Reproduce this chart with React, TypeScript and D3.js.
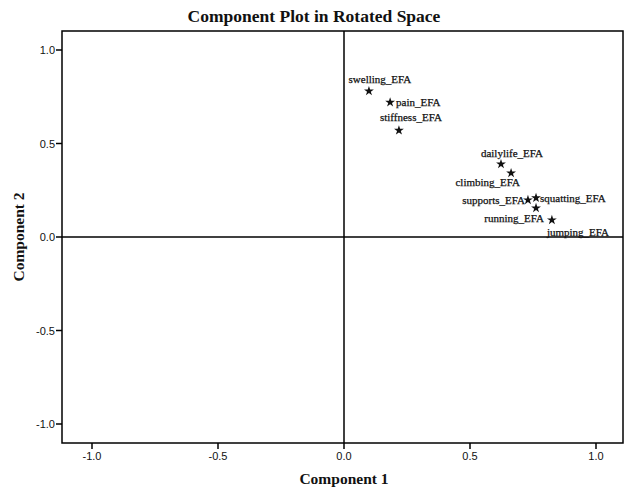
import React from "react";
import * as d3 from "d3";

// rotated component loadings
const variables = [
  "swelling_EFA",
  "pain_EFA",
  "stiffness_EFA",
  "dailylife_EFA",
  "climbing_EFA",
  "supports_EFA",
  "squatting_EFA",
  "running_EFA",
  "jumping_EFA",
];
const component1 = [0.099, 0.183, 0.218, 0.623, 0.663, 0.73, 0.762, 0.762, 0.825];
const component2 = [0.78, 0.72, 0.57, 0.39, 0.342, 0.198, 0.209, 0.155, 0.091];
const ticks = [-1.0, -0.5, 0.0, 0.5, 1.0];

// where each label sits relative to its star: [anchor, dx, dy]
const labelPlace: [string, number, number][] = [
  ["middle", 11, -8],
  ["start", 6, 4],
  ["middle", 12, -9],
  ["middle", 11, -7],
  ["end", 9, 13],
  ["end", -3, 4],
  ["start", 4, 4],
  ["end", 8, 14],
  ["start", -5, 16],
];

const W = 626;
const H = 488;
const frame = { left: 62, right: 623, top: 31, bottom: 443 };

const App = () => {
  const x = d3.scaleLinear().domain([-1, 1]).range([92, 596]);
  const y = d3.scaleLinear().domain([-1, 1]).range([424, 50]);
  const star = d3.symbol().type(d3.symbolStar).size(30)();

  const tickFont = "Liberation Sans, Arial, sans-serif";
  const serif = "Liberation Serif, Times New Roman, serif";

  return (
    <svg width={W} height={H} style={{ position: "absolute", left: 0, top: 0, background: "#fff" }}>
      <rect x={0} y={0} width={W} height={H} fill="#fff" />
      <text x={314} y={22} textAnchor="middle" fontFamily={serif} fontWeight="bold" fontSize={17.5} fill="#111">
        Component Plot in Rotated Space
      </text>

      {/* reference lines */}
      <line x1={x(0)} x2={x(0)} y1={frame.top} y2={frame.bottom} stroke="#000" strokeWidth={1.5} />
      <line x1={frame.left} x2={frame.right} y1={y(0)} y2={y(0)} stroke="#000" strokeWidth={1.5} />

      <rect
        x={frame.left}
        y={frame.top}
        width={frame.right - frame.left}
        height={frame.bottom - frame.top}
        fill="none"
        stroke="#000"
        strokeWidth={1.5}
      />

      {ticks.map(t => (
        <g key={"y" + t}>
          <line x1={frame.left - 6} x2={frame.left} y1={y(t)} y2={y(t)} stroke="#000" strokeWidth={1.5} />
          <text x={frame.left - 7} y={y(t) + 4} textAnchor="end" fontFamily={tickFont} fontSize={11} fill="#111">
            {t.toFixed(1)}
          </text>
        </g>
      ))}
      {ticks.map(t => (
        <g key={"x" + t}>
          <line x1={x(t)} x2={x(t)} y1={frame.bottom} y2={frame.bottom + 6} stroke="#000" strokeWidth={1.5} />
          <text x={x(t)} y={frame.bottom + 17} textAnchor="middle" fontFamily={tickFont} fontSize={11} fill="#111">
            {t.toFixed(1)}
          </text>
        </g>
      ))}

      <text x={x(0)} y={484} textAnchor="middle" fontFamily={serif} fontWeight="bold" fontSize={15.5} fill="#111">
        Component 1
      </text>
      <text
        transform={`translate(24 ${y(0)}) rotate(-90)`}
        textAnchor="middle"
        fontFamily={serif}
        fontWeight="bold"
        fontSize={15.5}
        fill="#111"
      >
        Component 2
      </text>

      {variables.map((v, i) => {
        const px = x(component1[i]);
        const py = y(component2[i]);
        const [anchor, dx, dy] = labelPlace[i];
        return (
          <g key={v}>
            <path d={star || ""} transform={`translate(${px} ${py})`} fill="#111" />
            <text
              x={px + dx}
              y={py + dy}
              textAnchor={anchor as any}
              fontFamily={serif}
              fontSize={11}
              fill="#111"
              stroke="#111"
              strokeWidth={0.25}
            >
              {v}
            </text>
          </g>
        );
      })}
    </svg>
  );
};

export default App;
